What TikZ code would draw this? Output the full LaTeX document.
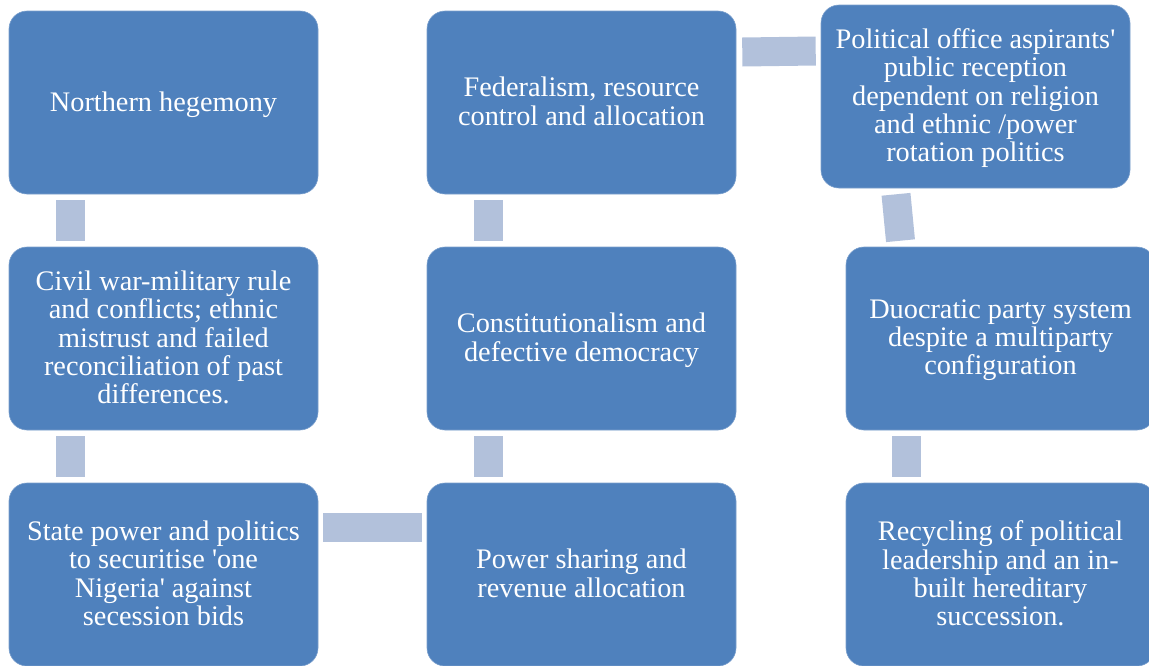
\documentclass[tikz,border=0pt]{standalone}
\usepackage{fontspec}
\setmainfont{Liberation Serif}
\definecolor{boxblue}{HTML}{4F81BD}
\definecolor{linkblue}{HTML}{B2C1DB}
\begin{document}
\begin{tikzpicture}[x=1pt,y=-1pt,
  card/.style={fill=boxblue, draw=boxblue!75!white, line width=0.6pt,
    rounded corners=18pt, minimum width=309pt, minimum height=183pt,
    inner sep=0pt},
  words/.style={text=white, align=center, inner sep=0pt,
    font=\fontsize{28.3}{28.3}\selectfont,
    execute at begin node=\strut, execute at end node=\strut},
  link/.style={draw=linkblue, line width=29pt}]
\useasboundingbox (0,0) rectangle (1149,665);
\clip (0,0) rectangle (1149,665);

% first column
\node[card] (north) at (163.5,102.5) {};
\node[card] (civil) at (163.5,338.5) {};
\node[card] (state) at (163.5,574.5) {};
% second column
\node[card] (fed) at (581.5,102.5) {};
\node[card] (const) at (581.5,338.5) {};
\node[card] (share) at (581.5,574.5) {};
% third column
\node[card] (aspir) at (975.5,96.5) {};
\node[card] (duo) at (1000.5,338.5) {};
\node[card] (recyc) at (1000.5,574.5) {};

% card texts, set a little below the geometric centre
\node[words] (northT) at ([yshift=-3pt]north.center) {Northern hegemony};
\node[words] (civilT) at ([yshift=-3pt]civil.center) {Civil war-military rule\\and conflicts; ethnic\\mistrust and failed\\reconciliation of past\\differences.};
\node[words] (stateT) at ([yshift=-3pt]state.center) {State power and politics\\to securitise \textquotesingle one\\Nigeria\textquotesingle{} against\\secession bids};
\node[words] (fedT) at ([yshift=-3pt]fed.center) {Federalism, resource\\control and allocation};
\node[words] (constT) at ([yshift=-3pt]const.center) {Constitutionalism and\\defective democracy};
\node[words] (shareT) at ([yshift=-3pt]share.center) {Power sharing and\\revenue allocation};
\node[words] (aspirT) at ([yshift=-3pt]aspir.center) {Political office aspirants\textquotesingle\\public reception\\dependent on religion\\and ethnic /power\\rotation politics};
\node[words] (duoT) at ([yshift=-3pt]duo.center) {Duocratic party system\\despite a multiparty\\configuration};
\node[words] (recycT) at ([yshift=-3pt]recyc.center) {Recycling of political\\leadership and an in-\\built hereditary\\succession.};

% connecting bars
\draw[link] ([xshift=-93pt,yshift=-6pt]north.south) -- ([xshift=-93pt,yshift=6pt]civil.north);
\draw[link] ([xshift=-93pt,yshift=-6pt]civil.south) -- ([xshift=-93pt,yshift=6pt]state.north);
\draw[link] ([xshift=5pt,yshift=47.5pt]state.east) -- ([xshift=-5pt,yshift=47.5pt]share.west);
\draw[link] ([xshift=-93pt,yshift=-6pt]const.south) -- ([xshift=-93pt,yshift=6pt]share.north);
\draw[link] ([xshift=-93pt,yshift=-6pt]fed.south) -- ([xshift=-93pt,yshift=6pt]const.north);
\draw[link] ([xshift=6pt,yshift=50.5pt]fed.east) -- ([xshift=-5pt,yshift=45.5pt]aspir.west);
\draw[link] ([xshift=-79.5pt,yshift=-6pt]aspir.south) -- ([xshift=-100pt,yshift=6pt]duo.north);
\draw[link] ([xshift=-94pt,yshift=-6pt]duo.south) -- ([xshift=-94pt,yshift=6pt]recyc.north);
\end{tikzpicture}
\end{document}
